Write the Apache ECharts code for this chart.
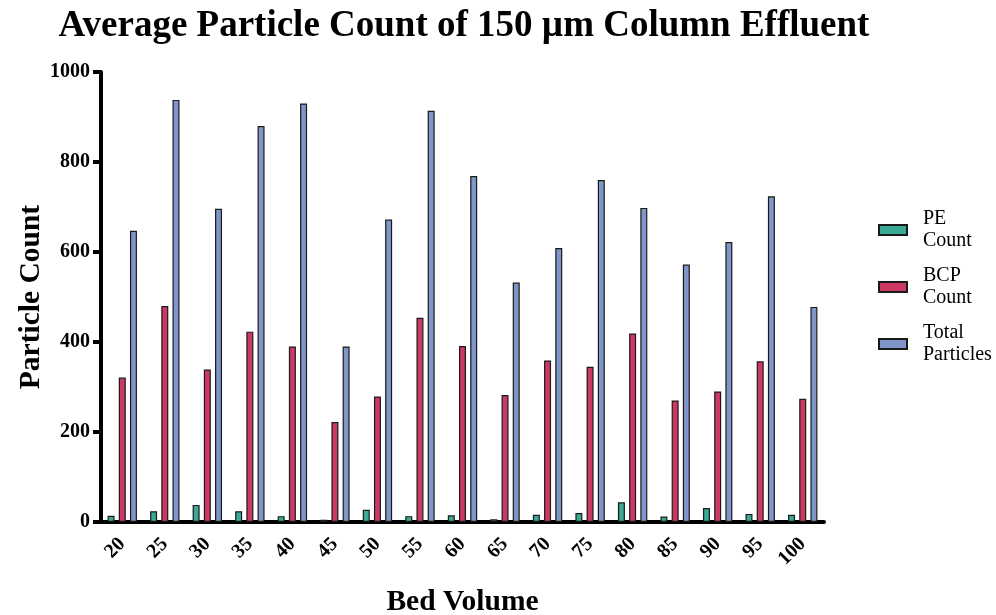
<!DOCTYPE html>
<html><head><meta charset="utf-8">
<script src="https://cdn.jsdelivr.net/npm/echarts@6/dist/echarts.min.js"></script>
<style>html,body{margin:0;padding:0;background:#fff}#c{width:996px;height:615px}</style>
</head><body><div id="c"></div>
<script>
const categories = ['20','25','30','35','40','45','50','55','60','65','70','75','80','85','90','95','100'];
const peCount = [14,24,38,24,13,5,27,13,15,6,16,20,44,12,31,18,16];
const bcpCount = [321,480,339,423,390,222,279,454,391,282,359,345,419,270,290,357,274];
const totalParticles = [647,938,696,880,930,390,672,914,769,532,609,760,698,572,622,724,478];
const seriesNames = ['PE Count','BCP Count','Total Particles'];
const seriesColors = ['#3ba996','#cc3a64','#7f96c9'];
const seriesValues = [peCount, bcpCount, totalParticles];

const FONT = 'Liberation Serif';
const chart = echarts.init(document.getElementById('c'), null, {renderer:'canvas'});
chart.setOption({
  backgroundColor:'#fff',
  animation:false,
  title:{
    text:'Average Particle Count of 150 \u00b5m Column Effluent',
    left:464, top:8, textAlign:'center', padding:0,
    textStyle:{fontFamily:FONT, fontWeight:'bold', fontSize:37, color:'#000'}
  },
  legend:{
    orient:'vertical', left:878, top:208, padding:0,
    itemWidth:28, itemHeight:10, itemGap:13,
    icon:'rect',
    formatter: n => n.replace(' ', '\n'),
    textStyle:{fontFamily:FONT, fontSize:20, color:'#000', lineHeight:22, padding:[0,0,0,11]},
    data: seriesNames
  },
  grid:{left:101, top:72, width:723, height:450, containLabel:false, outerBoundsMode:'none'},
  xAxis:{
    type:'category', data:categories,
    name:'Bed Volume', nameLocation:'middle', nameGap:65, nameMoveOverlap:false,
    nameTextStyle:{fontFamily:FONT, fontWeight:'bold', fontSize:29.5, color:'#000'},
    axisLine:{lineStyle:{color:'#000', width:4}},
    axisTick:{alignWithLabel:true, interval:0, length:11, lineStyle:{color:'#000', width:4}},
    axisLabel:{interval:0, rotate:45, margin:19, fontFamily:FONT, fontWeight:'bold', fontSize:20, color:'#000'}
  },
  yAxis:{
    type:'value', min:0, max:1000, interval:200,
    name:'Particle Count', nameLocation:'middle', nameGap:55, nameMoveOverlap:false,
    nameTextStyle:{fontFamily:FONT, fontWeight:'bold', fontSize:29.5, color:'#000'},
    axisLine:{show:true, lineStyle:{color:'#000', width:4}},
    axisTick:{show:true, length:8, lineStyle:{color:'#000', width:4}},
    axisLabel:{margin:11, fontFamily:FONT, fontWeight:'bold', fontSize:20, color:'#000', formatter:v=>String(v)},
    splitLine:{show:false}
  },
  series: seriesNames.map((n,i)=>({
    name:n, type:'bar', data:seriesValues[i],
    barWidth:7, barGap:'60%',
    itemStyle:{color:seriesColors[i], borderColor:'#1a1a1a', borderWidth:1.2}
  }))
});
</script></body></html>
